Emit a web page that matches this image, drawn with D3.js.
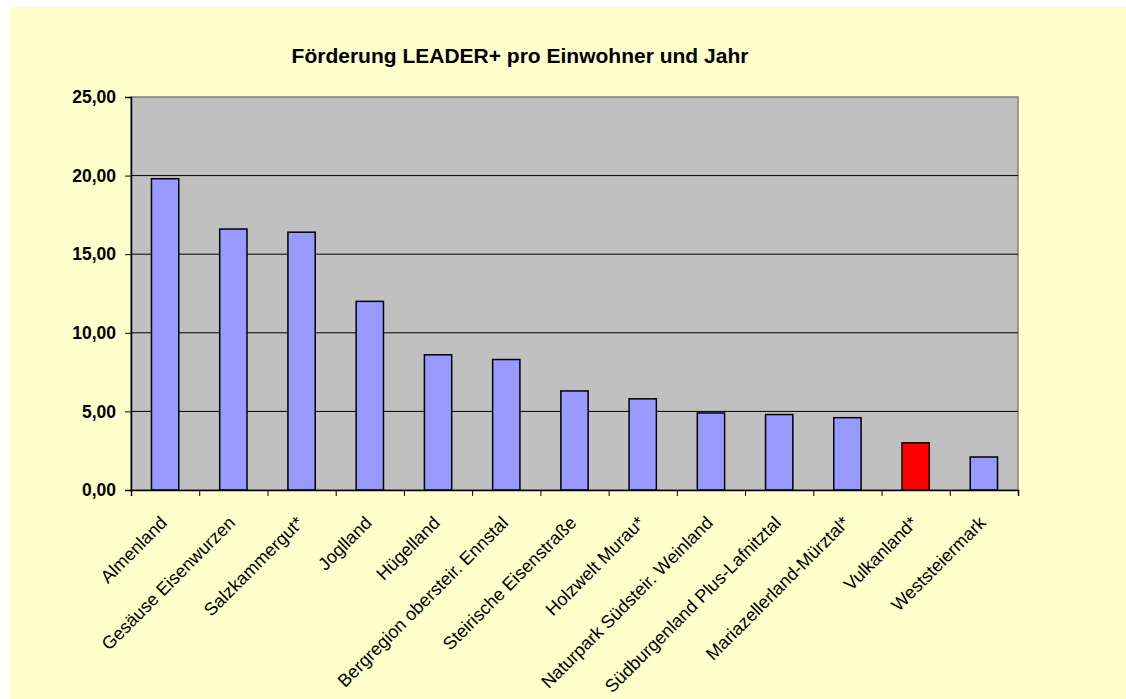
<!DOCTYPE html>
<html>
<head>
<meta charset="utf-8">
<script src="https://cdn.jsdelivr.net/npm/d3@7"></script>
<style>
  body { margin: 0; background: #fff; }
  text { font-family: "Liberation Sans", Arial, sans-serif; }
</style>
</head>
<body>
<svg width="1126" height="699"></svg>
<script>
var regionen = ["Almenland", "Gesäuse Eisenwurzen", "Salzkammergut*", "Joglland", "Hügelland",
    "Bergregion obersteir. Ennstal", "Steirische Eisenstraße", "Holzwelt Murau*",
    "Naturpark Südsteir. Weinland", "Südburgenland Plus-Lafnitztal", "Mariazellerland-Mürztal*",
    "Vulkanland*", "Weststeiermark"];
var foerderung = [19.8, 16.6, 16.4, 12.0, 8.6, 8.3, 6.3, 5.8, 4.9, 4.8, 4.6, 3.0, 2.1];
var yTicks = [0, 5, 10, 15, 20, 25];
var hervorgehoben = "Vulkanland*";
var titel = "Förderung LEADER+ pro Einwohner und Jahr";

var data = regionen.map(function(r, i) { return {region: r, wert: foerderung[i]}; });

var svg = d3.select("svg"),
    margin = {top: 97, right: 108, bottom: 209, left: 131},
    width = +svg.attr("width") - margin.left - margin.right,
    height = +svg.attr("height") - margin.top - margin.bottom;

// chart area background
svg.append("rect")
    .attr("x", 9)
    .attr("y", 7)
    .attr("width", 1126 - 9)
    .attr("height", 699 - 7)
    .attr("fill", "#FFFFCC");

var x = d3.scaleBand().domain(regionen).range([0, width]).paddingInner(0.6).paddingOuter(0.3),
    xTick = d3.scaleLinear().domain([0, regionen.length]).range([0, width]),
    y = d3.scaleLinear().domain([0, 25]).range([height, 0]);

var g = svg.append("g")
    .attr("transform", "translate(" + margin.left + "," + margin.top + ")");

g.append("rect")
    .attr("width", width)
    .attr("height", height)
    .attr("fill", "#C0C0C0")
    .attr("stroke", "#808080")
    .attr("stroke-width", 1.5);

// gridlines
g.selectAll(".grid")
    .data(yTicks.filter(function(d) { return d > 0 && d < 25; }))
    .enter().append("line")
        .attr("class", "grid")
        .attr("x1", 0)
        .attr("x2", width)
        .attr("y1", function(d) { return y(d); })
        .attr("y2", function(d) { return y(d); })
        .attr("stroke", "#000")
        .attr("stroke-width", 1);

g.selectAll(".bar")
    .data(data)
    .enter().append("rect")
        .attr("class", "bar")
        .attr("x", function(d) { return x(d.region); })
        .attr("y", function(d) { return y(d.wert); })
        .attr("width", x.bandwidth())
        .attr("height", function(d) { return height - y(d.wert); })
        .attr("fill", function(d) { return d.region === hervorgehoben ? "#FF0000" : "#9999FF"; })
        .attr("stroke", "#000")
        .attr("stroke-width", 1.5);

// y axis
var yAxis = g.append("g")
    .attr("class", "axis axis--y")
    .call(d3.axisLeft(y)
        .tickValues(yTicks)
        .tickSize(6)
        .tickPadding(9)
        .tickFormat(function(d) { return d3.format(".2f")(d).replace(".", ","); }));
yAxis.select(".domain").attr("stroke", "#000").attr("stroke-width", 1.5);
yAxis.selectAll("text")
    .attr("font-size", "17.5px")
    .attr("font-weight", "bold")
    .attr("fill", "#000")
    .style("font-family", "Liberation Sans, Arial, sans-serif");

// x axis: ticks between categories
var xAxis = g.append("g")
    .attr("class", "axis axis--x")
    .attr("transform", "translate(0," + height + ")")
    .call(d3.axisBottom(xTick).ticks(regionen.length).tickSize(6).tickFormat(""));
xAxis.select(".domain").attr("stroke", "#000").attr("stroke-width", 1.5);

g.selectAll(".xlabel")
    .data(regionen)
    .enter().append("text")
        .attr("class", "xlabel")
        .attr("transform", function(d) {
            return "translate(" + (x(d) + x.bandwidth() / 2 + 3) + "," + (height + 34) + ") rotate(-45)";
        })
        .attr("text-anchor", "end")
        .attr("font-size", "18px")
        .attr("fill", "#000")
        .text(function(d) { return d; });

svg.append("text")
    .attr("x", 520)
    .attr("y", 63)
    .attr("text-anchor", "middle")
    .attr("font-size", "21px")
    .attr("font-weight", "bold")
    .attr("fill", "#000")
    .text(titel);
</script>
</body>
</html>
